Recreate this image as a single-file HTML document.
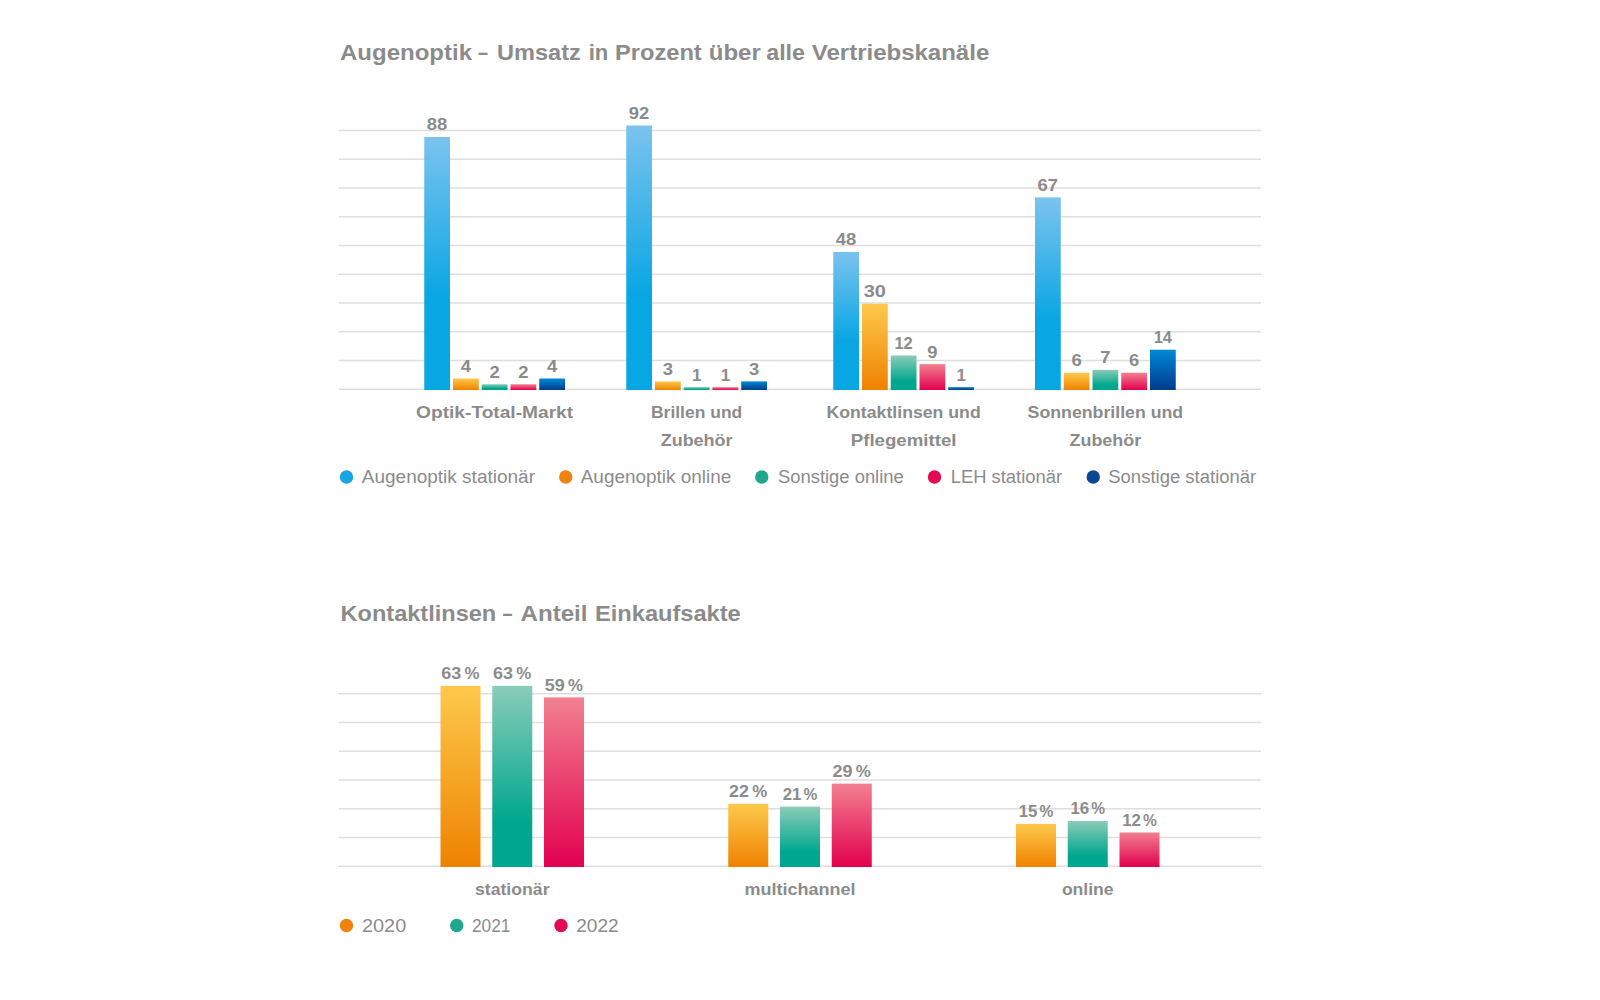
<!DOCTYPE html>
<html lang="de"><head><meta charset="utf-8"><title>Augenoptik – Umsatz in Prozent</title>
<style>html,body{margin:0;padding:0;background:#fff}body{width:1600px;height:1000px;overflow:hidden}svg{display:block}text{font-family:"Liberation Sans", Arial, sans-serif;fill:#8b8b8b}.b{font-weight:700}.t{font-size:22.5px;font-weight:700}.c{font-size:17px;font-weight:700;text-anchor:middle}.v{font-size:17px;font-weight:700;text-anchor:middle}.l{font-size:18px}</style></head><body>
<svg width="1600" height="1000" viewBox="0 0 1600 1000">
<defs>
<linearGradient id="bl" x1="0" y1="0" x2="0" y2="1"><stop offset="0" stop-color="#7bc3ee"/><stop offset="0.64" stop-color="#08a6e3"/><stop offset="1" stop-color="#08a6e3"/></linearGradient>
<linearGradient id="or" x1="0" y1="0" x2="0" y2="1"><stop offset="0" stop-color="#fdc94c"/><stop offset="1" stop-color="#ef8200"/></linearGradient>
<linearGradient id="te" x1="0" y1="0" x2="0" y2="1"><stop offset="0" stop-color="#8accb8"/><stop offset="0.75" stop-color="#00a78e"/><stop offset="1" stop-color="#00a78e"/></linearGradient>
<linearGradient id="re" x1="0" y1="0" x2="0" y2="1"><stop offset="0" stop-color="#f2808f"/><stop offset="1" stop-color="#e2004f"/></linearGradient>
<linearGradient id="db" x1="0" y1="0" x2="0" y2="1"><stop offset="0" stop-color="#0089d6"/><stop offset="1" stop-color="#003b8e"/></linearGradient>
</defs>
<rect width="1600" height="1000" fill="#fff"/>
<text class="t" y="60.00"><tspan x="340.00" textLength="132.00" lengthAdjust="spacingAndGlyphs">Augenoptik</tspan> <tspan x="478.00" textLength="10.00" lengthAdjust="spacingAndGlyphs">–</tspan> <tspan x="497.00" textLength="83.75" lengthAdjust="spacingAndGlyphs">Umsatz</tspan> <tspan x="588.70" textLength="19.60" lengthAdjust="spacingAndGlyphs">in</tspan> <tspan x="615.00" textLength="86.75" lengthAdjust="spacingAndGlyphs">Prozent</tspan> <tspan x="708.75" textLength="52.00" lengthAdjust="spacingAndGlyphs">über</tspan> <tspan x="766.25" textLength="38.75" lengthAdjust="spacingAndGlyphs">alle</tspan> <tspan x="811.75" textLength="177.50" lengthAdjust="spacingAndGlyphs">Vertriebskanäle</tspan></text>
<line x1="338.9" x2="1260.8" y1="389.25" y2="389.25" stroke="#dedede" stroke-width="1.3"/>
<line x1="338.9" x2="1260.8" y1="360.50" y2="360.50" stroke="#dedede" stroke-width="1.3"/>
<line x1="338.9" x2="1260.8" y1="331.75" y2="331.75" stroke="#dedede" stroke-width="1.3"/>
<line x1="338.9" x2="1260.8" y1="303.00" y2="303.00" stroke="#dedede" stroke-width="1.3"/>
<line x1="338.9" x2="1260.8" y1="274.25" y2="274.25" stroke="#dedede" stroke-width="1.3"/>
<line x1="338.9" x2="1260.8" y1="245.50" y2="245.50" stroke="#dedede" stroke-width="1.3"/>
<line x1="338.9" x2="1260.8" y1="216.75" y2="216.75" stroke="#dedede" stroke-width="1.3"/>
<line x1="338.9" x2="1260.8" y1="188.00" y2="188.00" stroke="#dedede" stroke-width="1.3"/>
<line x1="338.9" x2="1260.8" y1="159.25" y2="159.25" stroke="#dedede" stroke-width="1.3"/>
<line x1="338.9" x2="1260.8" y1="130.50" y2="130.50" stroke="#dedede" stroke-width="1.3"/>
<rect x="424.25" y="137.00" width="25.75" height="253.00" fill="url(#bl)"/>
<text class="v" x="437.12" y="130.40" textLength="20.50" lengthAdjust="spacingAndGlyphs">88</text>
<rect x="453.00" y="378.50" width="25.75" height="11.50" fill="url(#or)"/>
<text class="v" x="465.88" y="371.90" textLength="10.25" lengthAdjust="spacingAndGlyphs">4</text>
<rect x="481.75" y="384.25" width="25.75" height="5.75" fill="url(#te)"/>
<text class="v" x="494.62" y="377.65" textLength="10.25" lengthAdjust="spacingAndGlyphs">2</text>
<rect x="510.50" y="384.25" width="25.75" height="5.75" fill="url(#re)"/>
<text class="v" x="523.38" y="377.65" textLength="10.25" lengthAdjust="spacingAndGlyphs">2</text>
<rect x="539.25" y="378.50" width="25.75" height="11.50" fill="url(#db)"/>
<text class="v" x="552.12" y="371.90" textLength="10.25" lengthAdjust="spacingAndGlyphs">4</text>
<text class="c" x="494.62" y="418.00" textLength="157.00" lengthAdjust="spacingAndGlyphs">Optik-Total-Markt</text>
<rect x="626.25" y="125.50" width="25.75" height="264.50" fill="url(#bl)"/>
<text class="v" x="639.12" y="118.90" textLength="20.50" lengthAdjust="spacingAndGlyphs">92</text>
<rect x="655.00" y="381.38" width="25.75" height="8.62" fill="url(#or)"/>
<text class="v" x="667.88" y="374.77" textLength="10.25" lengthAdjust="spacingAndGlyphs">3</text>
<rect x="683.75" y="387.12" width="25.75" height="2.88" fill="url(#te)"/>
<text class="v" x="696.62" y="380.52">1</text>
<rect x="712.50" y="387.12" width="25.75" height="2.88" fill="url(#re)"/>
<text class="v" x="725.38" y="380.52">1</text>
<rect x="741.25" y="381.38" width="25.75" height="8.62" fill="url(#db)"/>
<text class="v" x="754.12" y="374.77" textLength="10.25" lengthAdjust="spacingAndGlyphs">3</text>
<text class="c" x="696.62" y="418.00" textLength="91.25" lengthAdjust="spacingAndGlyphs">Brillen und</text>
<text class="c" x="696.62" y="445.60" textLength="71.75" lengthAdjust="spacingAndGlyphs">Zubehör</text>
<rect x="833.25" y="252.00" width="25.75" height="138.00" fill="url(#bl)"/>
<text class="v" x="846.12" y="245.40" textLength="20.50" lengthAdjust="spacingAndGlyphs">48</text>
<rect x="862.00" y="303.75" width="25.75" height="86.25" fill="url(#or)"/>
<text class="v" x="874.88" y="297.15" textLength="22.25" lengthAdjust="spacingAndGlyphs">30</text>
<rect x="890.75" y="355.50" width="25.75" height="34.50" fill="url(#te)"/>
<text class="v" x="903.62" y="348.90" textLength="18.25" lengthAdjust="spacingAndGlyphs">12</text>
<rect x="919.50" y="364.12" width="25.75" height="25.88" fill="url(#re)"/>
<text class="v" x="932.38" y="357.52" textLength="10.25" lengthAdjust="spacingAndGlyphs">9</text>
<rect x="948.25" y="387.12" width="25.75" height="2.88" fill="url(#db)"/>
<text class="v" x="961.12" y="380.52">1</text>
<text class="c" x="903.62" y="418.00" textLength="154.25" lengthAdjust="spacingAndGlyphs">Kontaktlinsen und</text>
<text class="c" x="903.62" y="445.60" textLength="105.75" lengthAdjust="spacingAndGlyphs">Pflegemittel</text>
<rect x="1035.00" y="197.38" width="25.75" height="192.62" fill="url(#bl)"/>
<text class="v" x="1047.88" y="190.78" textLength="20.50" lengthAdjust="spacingAndGlyphs">67</text>
<rect x="1063.75" y="372.75" width="25.75" height="17.25" fill="url(#or)"/>
<text class="v" x="1076.62" y="366.15" textLength="10.25" lengthAdjust="spacingAndGlyphs">6</text>
<rect x="1092.50" y="369.88" width="25.75" height="20.12" fill="url(#te)"/>
<text class="v" x="1105.38" y="363.27" textLength="10.25" lengthAdjust="spacingAndGlyphs">7</text>
<rect x="1121.25" y="372.75" width="25.75" height="17.25" fill="url(#re)"/>
<text class="v" x="1134.12" y="366.15" textLength="10.25" lengthAdjust="spacingAndGlyphs">6</text>
<rect x="1150.00" y="349.75" width="25.75" height="40.25" fill="url(#db)"/>
<text class="v" x="1162.88" y="343.15" textLength="18.25" lengthAdjust="spacingAndGlyphs">14</text>
<text class="c" x="1105.38" y="418.00" textLength="155.50" lengthAdjust="spacingAndGlyphs">Sonnenbrillen und</text>
<text class="c" x="1105.38" y="445.60" textLength="71.75" lengthAdjust="spacingAndGlyphs">Zubehör</text>
<circle cx="346.50" cy="477" r="6.7" fill="#19a5e1"/>
<text class="l" x="361.75" y="483.15" textLength="173.25" lengthAdjust="spacingAndGlyphs">Augenoptik stationär</text>
<circle cx="565.75" cy="477" r="6.7" fill="#ee8310"/>
<text class="l" x="580.75" y="483.15" textLength="150.50" lengthAdjust="spacingAndGlyphs">Augenoptik online</text>
<circle cx="761.75" cy="477" r="6.7" fill="#1fa88e"/>
<text class="l" x="778.00" y="483.15" textLength="125.75" lengthAdjust="spacingAndGlyphs">Sonstige online</text>
<circle cx="934.50" cy="477" r="6.7" fill="#e20a52"/>
<text class="l" x="950.75" y="483.15" textLength="111.25" lengthAdjust="spacingAndGlyphs">LEH stationär</text>
<circle cx="1093.25" cy="477" r="6.7" fill="#0a4596"/>
<text class="l" x="1108.25" y="483.15" textLength="148.00" lengthAdjust="spacingAndGlyphs">Sonstige stationär</text>
<text class="t" y="621.25"><tspan x="340.50" textLength="155.75" lengthAdjust="spacingAndGlyphs">Kontaktlinsen</tspan> <tspan x="502.50" textLength="10.00" lengthAdjust="spacingAndGlyphs">–</tspan> <tspan x="520.50" textLength="67.00" lengthAdjust="spacingAndGlyphs">Anteil</tspan> <tspan x="595.00" textLength="145.75" lengthAdjust="spacingAndGlyphs">Einkaufsakte</tspan></text>
<line x1="338.9" x2="1260.8" y1="866.25" y2="866.25" stroke="#dedede" stroke-width="1.3"/>
<line x1="338.9" x2="1260.8" y1="837.50" y2="837.50" stroke="#dedede" stroke-width="1.3"/>
<line x1="338.9" x2="1260.8" y1="808.75" y2="808.75" stroke="#dedede" stroke-width="1.3"/>
<line x1="338.9" x2="1260.8" y1="780.00" y2="780.00" stroke="#dedede" stroke-width="1.3"/>
<line x1="338.9" x2="1260.8" y1="751.25" y2="751.25" stroke="#dedede" stroke-width="1.3"/>
<line x1="338.9" x2="1260.8" y1="722.50" y2="722.50" stroke="#dedede" stroke-width="1.3"/>
<line x1="338.9" x2="1260.8" y1="693.75" y2="693.75" stroke="#dedede" stroke-width="1.3"/>
<rect x="440.50" y="685.88" width="40.00" height="181.12" fill="url(#or)"/>
<text class="v" style="text-anchor:start" y="679.17"><tspan x="441.20" textLength="20.00" lengthAdjust="spacingAndGlyphs">63</tspan> <tspan x="464.60" textLength="15.00" lengthAdjust="spacingAndGlyphs">%</tspan></text>
<rect x="492.25" y="685.88" width="40.00" height="181.12" fill="url(#te)"/>
<text class="v" style="text-anchor:start" y="679.17"><tspan x="492.95" textLength="20.00" lengthAdjust="spacingAndGlyphs">63</tspan> <tspan x="516.35" textLength="15.00" lengthAdjust="spacingAndGlyphs">%</tspan></text>
<rect x="544.00" y="697.38" width="40.00" height="169.62" fill="url(#re)"/>
<text class="v" style="text-anchor:start" y="690.67"><tspan x="544.70" textLength="20.00" lengthAdjust="spacingAndGlyphs">59</tspan> <tspan x="568.10" textLength="15.00" lengthAdjust="spacingAndGlyphs">%</tspan></text>
<text class="c" x="512.25" y="895" textLength="74.50" lengthAdjust="spacingAndGlyphs">stationär</text>
<rect x="728.25" y="803.75" width="40.00" height="63.25" fill="url(#or)"/>
<text class="v" style="text-anchor:start" y="797.05"><tspan x="728.95" textLength="20.00" lengthAdjust="spacingAndGlyphs">22</tspan> <tspan x="752.35" textLength="15.00" lengthAdjust="spacingAndGlyphs">%</tspan></text>
<rect x="780.00" y="806.62" width="40.00" height="60.38" fill="url(#te)"/>
<text class="v" style="text-anchor:start" y="799.92"><tspan x="782.70" textLength="18.70" lengthAdjust="spacingAndGlyphs">21</tspan> <tspan x="803.60" textLength="13.80" lengthAdjust="spacingAndGlyphs">%</tspan></text>
<rect x="831.75" y="783.62" width="40.00" height="83.38" fill="url(#re)"/>
<text class="v" style="text-anchor:start" y="776.92"><tspan x="832.45" textLength="20.00" lengthAdjust="spacingAndGlyphs">29</tspan> <tspan x="855.85" textLength="15.00" lengthAdjust="spacingAndGlyphs">%</tspan></text>
<text class="c" x="800.00" y="895" textLength="111.00" lengthAdjust="spacingAndGlyphs">multichannel</text>
<rect x="1016.00" y="823.88" width="40.00" height="43.12" fill="url(#or)"/>
<text class="v" style="text-anchor:start" y="817.17"><tspan x="1018.70" textLength="18.70" lengthAdjust="spacingAndGlyphs">15</tspan> <tspan x="1039.60" textLength="13.80" lengthAdjust="spacingAndGlyphs">%</tspan></text>
<rect x="1067.75" y="821.00" width="40.00" height="46.00" fill="url(#te)"/>
<text class="v" style="text-anchor:start" y="814.30"><tspan x="1070.45" textLength="18.70" lengthAdjust="spacingAndGlyphs">16</tspan> <tspan x="1091.35" textLength="13.80" lengthAdjust="spacingAndGlyphs">%</tspan></text>
<rect x="1119.50" y="832.50" width="40.00" height="34.50" fill="url(#re)"/>
<text class="v" style="text-anchor:start" y="825.80"><tspan x="1122.20" textLength="18.70" lengthAdjust="spacingAndGlyphs">12</tspan> <tspan x="1143.10" textLength="13.80" lengthAdjust="spacingAndGlyphs">%</tspan></text>
<text class="c" x="1087.75" y="895" textLength="51.75" lengthAdjust="spacingAndGlyphs">online</text>
<circle cx="346.50" cy="925.5" r="6.7" fill="#ee8310"/>
<text class="l" x="362.00" y="932" textLength="44.25" lengthAdjust="spacingAndGlyphs">2020</text>
<circle cx="456.75" cy="925.5" r="6.7" fill="#1fa88e"/>
<text class="l" x="472.00" y="932" textLength="38.50" lengthAdjust="spacingAndGlyphs">2021</text>
<circle cx="561.00" cy="925.5" r="6.7" fill="#e20a52"/>
<text class="l" x="576.25" y="932" textLength="42.50" lengthAdjust="spacingAndGlyphs">2022</text>
</svg></body></html>
